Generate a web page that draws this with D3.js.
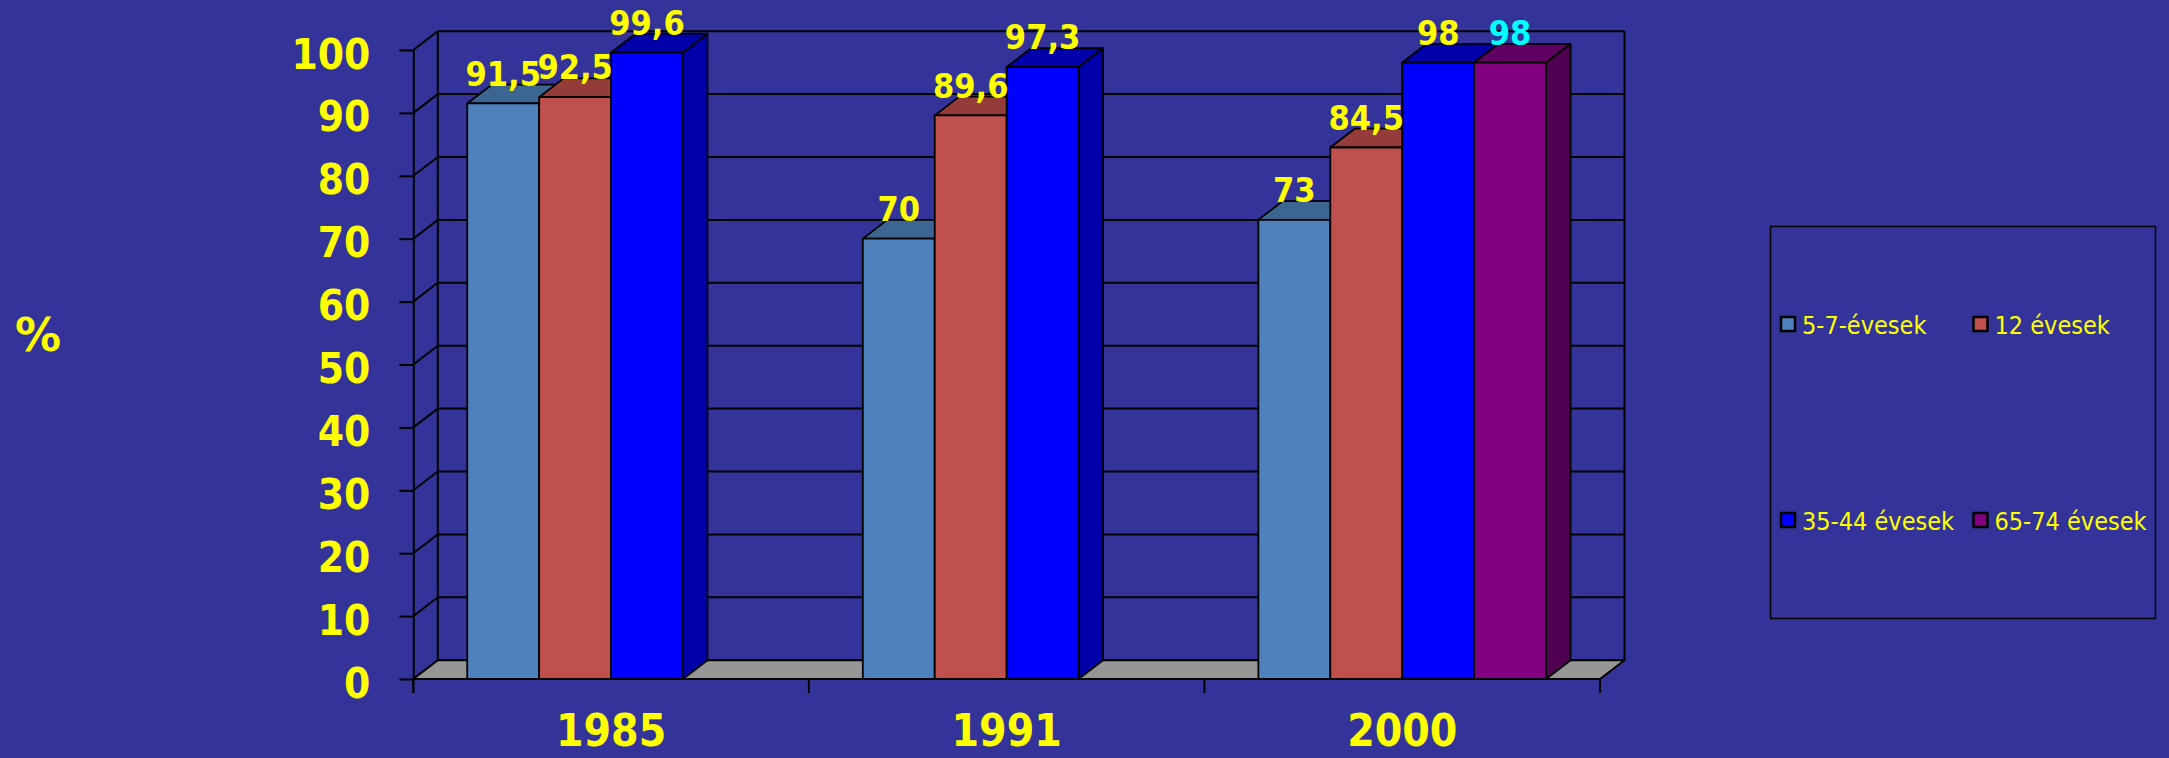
<!DOCTYPE html>
<html>
<head>
<meta charset="utf-8">
<script src="https://cdn.jsdelivr.net/npm/d3@7"></script>
<style>
  html, body { margin: 0; padding: 0; background: #333399; }
  svg { display: block; }
  .cond { font-family: "DejaVu Sans Condensed", "DejaVu Sans", Verdana, sans-serif; font-stretch: condensed; }
  .wide { font-family: "DejaVu Sans", Verdana, sans-serif; }
</style>
</head>
<body>
<svg id="chart" width="2169" height="758"></svg>
<script>
// Survey years and age groups
const years = ["1985", "1991", "2000"];
const groups = ["5-7-évesek", "12 évesek", "35-44 évesek", "65-74 évesek"];

// Percentages per age group, one entry per year (null = not surveyed)
const age5to7 = [91.5, 70, 73];
const age12 = [92.5, 89.6, 84.5];
const age35to44 = [99.6, 97.3, 98];
const age65to74 = [null, null, 98];

// Value labels as printed above the columns
const labels5to7 = ["91,5", "70", "73"];
const labels12 = ["92,5", "89,6", "84,5"];
const labels35to44 = ["99,6", "97,3", "98"];
const labels65to74 = [null, null, "98"];

const yTicks = [0, 10, 20, 30, 40, 50, 60, 70, 80, 90, 100];

const seriesValues = [age5to7, age12, age35to44, age65to74];
const seriesLabels = [labels5to7, labels12, labels35to44, labels65to74];

// Face colours: front, top, side
const palette = [
  { front: "#4F81BD", top: "#3D6591", side: "#2F4F73", label: "#FFFF00" },
  { front: "#C0504D", top: "#933C3A", side: "#7A302E", label: "#FFFF00" },
  { front: "#0000FF", top: "#0000AA", side: "#0000AA", label: "#FFFF00" },
  { front: "#800080", top: "#600060", side: "#500050", label: "#00FFFF" }
];

const svg = d3.select("#chart");
const W = 2169, H = 758;
svg.append("rect").attr("width", W).attr("height", H).attr("fill", "#333399");

// Front plane of the plot and the oblique depth offset
const x0 = 413.3, x1 = 1600, yBottom = 679, yTop = 50;
const dx = 24.5, dy = 18.8;

const y = d3.scaleLinear().domain([0, 100]).range([yBottom, yTop]);
const x = d3.scaleBand().domain(years).range([x0, x1]).paddingInner(0).paddingOuter(0);
const xs = d3.scaleBand().domain(d3.range(groups.length)).range([0, x.bandwidth()])
  .paddingInner(0).paddingOuter(0.75);

const grid = svg.append("g");

// Back wall gridlines
grid.selectAll("line.back").data(yTicks).join("line")
  .attr("x1", x0 + dx).attr("x2", x1 + dx)
  .attr("y1", d => y(d) - dy).attr("y2", d => y(d) - dy)
  .attr("stroke", "#000").attr("stroke-width", 2);

// Side wall diagonals
grid.selectAll("line.side").data(yTicks).join("line")
  .attr("x1", x0).attr("x2", x0 + dx)
  .attr("y1", d => y(d)).attr("y2", d => y(d) - dy)
  .attr("stroke", "#000").attr("stroke-width", 2);

// Wall edges
grid.append("line").attr("x1", x0 + dx).attr("x2", x0 + dx)
  .attr("y1", y(100) - dy).attr("y2", y(0) - dy).attr("stroke", "#000").attr("stroke-width", 2);
grid.append("line").attr("x1", x1 + dx).attr("x2", x1 + dx)
  .attr("y1", y(100) - dy).attr("y2", y(0) - dy).attr("stroke", "#000").attr("stroke-width", 2);

// Floor
grid.append("path")
  .attr("d", `M${x0},${y(0)}L${x1},${y(0)}L${x1 + dx},${y(0) - dy}L${x0 + dx},${y(0) - dy}Z`)
  .attr("fill", "#969696").attr("stroke", "#000").attr("stroke-width", 2).attr("stroke-linejoin", "round");

// Value axis
const yAxis = svg.append("g").attr("transform", `translate(${x0},0)`)
  .call(d3.axisLeft(y).tickValues(yTicks).tickSize(14).tickPadding(29).tickSizeOuter(0));
yAxis.select(".domain").attr("stroke", "#000").attr("stroke-width", 2);
yAxis.selectAll(".tick line").attr("stroke", "#000").attr("stroke-width", 2);
yAxis.selectAll(".tick text")
  .attr("class", "cond")
  .attr("fill", "#FFFF00").attr("font-size", 42).attr("font-weight", "bold")
  .attr("dy", "0.43em");
// extend axis line below the floor
svg.append("line").attr("x1", x0).attr("x2", x0).attr("y1", yBottom).attr("y2", yBottom + 14)
  .attr("stroke", "#000").attr("stroke-width", 2);

// Category boundary ticks
const bounds = years.map(d => x(d)).concat([x1]);
svg.selectAll("line.cat").data(bounds).join("line")
  .attr("x1", d => d).attr("x2", d => d)
  .attr("y1", yBottom).attr("y2", yBottom + 14)
  .attr("stroke", "#000").attr("stroke-width", 2);

// Category labels
const xAxis = svg.append("g").attr("transform", `translate(0,${yBottom})`)
  .call(d3.axisBottom(x).tickSize(0).tickSizeOuter(0));
xAxis.select(".domain").remove();
xAxis.selectAll(".tick text")
  .attr("class", "cond")
  .attr("fill", "#FFFF00").attr("font-size", 44).attr("font-weight", "bold")
  .attr("y", 0).attr("dy", 0).attr("transform", "translate(0,67)");

// Columns, drawn left to right so neighbours overlap correctly
const bars = [];
years.forEach((yr, i) => {
  groups.forEach((g, s) => {
    const v = seriesValues[s][i];
    if (v == null) return;
    bars.push({ yr, s, v, label: seriesLabels[s][i] });
  });
});

const barG = svg.append("g");
bars.forEach(b => {
  const bx = x(b.yr) + xs(b.s);
  const bw = xs.bandwidth();
  const top = y(b.v), base = y(0);
  const c = palette[b.s];
  const g = barG.append("g")
    .attr("stroke", "#000").attr("stroke-width", 1.8).attr("stroke-linejoin", "round");
  g.append("path")
    .attr("d", `M${bx + bw},${base}L${bx + bw + dx},${base - dy}L${bx + bw + dx},${top - dy}L${bx + bw},${top}Z`)
    .attr("fill", c.side);
  g.append("path")
    .attr("d", `M${bx},${top}L${bx + dx},${top - dy}L${bx + bw + dx},${top - dy}L${bx + bw},${top}Z`)
    .attr("fill", c.top);
  g.append("rect")
    .attr("x", bx).attr("y", top).attr("width", bw).attr("height", base - top)
    .attr("fill", c.front);
});

// Value labels
svg.append("g").selectAll("text").data(bars).join("text")
  .attr("class", "cond")
  .attr("x", b => x(b.yr) + xs(b.s) + xs.bandwidth() / 2)
  .attr("y", b => y(b.v) - dy + 1)
  .attr("text-anchor", "middle")
  .attr("font-size", 34).attr("font-weight", "bold")
  .attr("fill", b => palette[b.s].label)
  .text(b => b.label);

// Axis title
svg.append("text").attr("class", "wide")
  .attr("x", 15).attr("y", 351)
  .attr("font-size", 46).attr("font-weight", "bold").attr("fill", "#FFFF00")
  .text("%");

// Legend
const lg = svg.append("g");
lg.append("rect").attr("x", 1770.5).attr("y", 226.5).attr("width", 385).attr("height", 392)
  .attr("fill", "none").attr("stroke", "#000").attr("stroke-width", 1.5);
const legendPos = [
  { x: 1781, y: 317 }, { x: 1973.5, y: 317 },
  { x: 1781, y: 513 }, { x: 1973.5, y: 513 }
];
groups.forEach((g, s) => {
  const p = legendPos[s];
  lg.append("rect").attr("x", p.x).attr("y", p.y).attr("width", 14).attr("height", 14)
    .attr("fill", palette[s].front).attr("stroke", "#000").attr("stroke-width", 2.5);
  lg.append("text").attr("class", "cond")
    .attr("x", p.x + 21).attr("y", p.y + 17)
    .attr("font-size", 25).attr("fill", "#FFFF00")
    .text(g);
});
</script>
</body>
</html>
